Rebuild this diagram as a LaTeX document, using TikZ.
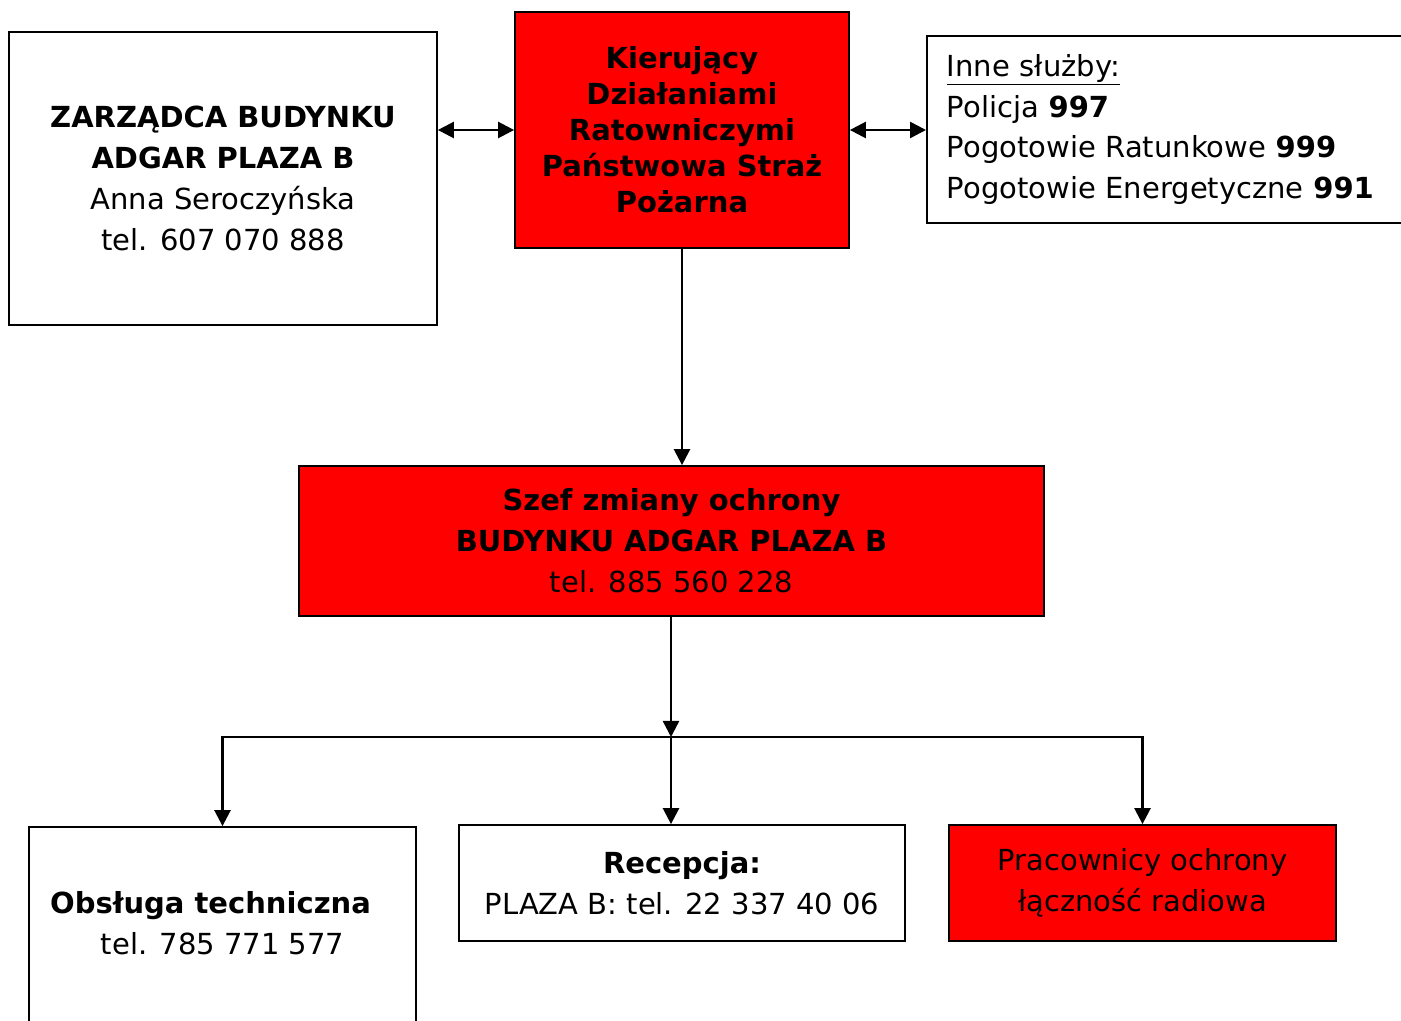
\documentclass[tikz,border=0pt]{standalone}
\usepackage{fontspec}
\setmainfont{DejaVu Sans}
\usetikzlibrary{arrows.meta, positioning, calc}
\tikzset{
  block/.style = {draw=black, line width=1pt, align=center, inner sep=4pt,
                  font=\fontsize{16.5}{23.3}\selectfont},
  alarm/.style = {block, fill=red},
  plain/.style = {block, fill=white},
  flow/.style  = {-{Triangle[length=3.2mm, width=3.2mm]}, line width=1.4pt},
  both/.style  = {{Triangle[length=3.2mm, width=3.2mm]}-{Triangle[length=3.2mm, width=3.2mm]}, line width=1.4pt}
}

\begin{document}
\begin{tikzpicture}
\useasboundingbox (0,0) rectangle (28.02,20.4);

% top row
\node[plain, minimum width=8.56cm, minimum height=5.86cm] at (4.46,16.83) (mgr)
  {\textbf{ZARZĄDCA BUDYNKU}\\ \textbf{ADGAR PLAZA B}\\ Anna Seroczyńska\\ tel. 607 070 888};
\node[alarm, minimum width=6.68cm, minimum height=4.72cm,
      font=\fontsize{16.5}{20.5}\selectfont\bfseries] at (13.64,17.8) (kdr)
  {Kierujący\\ Działaniami\\ Ratowniczymi\\ Państwowa Straż\\ Pożarna};
\node[plain, anchor=west, align=left, text width=9.08cm, inner xsep=0.4cm,
      minimum height=3.74cm] at (18.52,17.81) (inne)
  {\underline{Inne służby:}\\ Policja \textbf{997}\\ Pogotowie Ratunkowe \textbf{999}\\
   Pogotowie Energetyczne \textbf{991}};

% middle
\node[alarm, minimum width=14.9cm, minimum height=3cm] at (13.43,9.58) (szef)
  {\textbf{Szef zmiany ochrony}\\ \textbf{BUDYNKU ADGAR PLAZA B}\\ tel. 885 560 228};

% bottom row
\node[plain, minimum width=7.74cm, minimum height=4.66cm] at (4.45,1.53) (obs)
  {\textbf{Obsługa techniczna}\hspace*{0.48cm}\\ tel. 785 771 577\\ \mbox{}};
\node[plain, minimum width=8.92cm, minimum height=2.32cm] at (13.64,2.74) (rec)
  {\textbf{Recepcja:}\\ PLAZA B: tel. 22 337 40 06};
\node[alarm, minimum width=7.74cm, minimum height=2.32cm] at (22.85,2.74) (prac)
  {Pracownicy ochrony\\ łączność radiowa};

% connectors
\draw[both] (mgr.east |- 0,17.8) -- (kdr.west);
\draw[both] (kdr.east) -- (inne.west |- kdr.east);
\draw[flow] (kdr.south) -- (kdr.south |- szef.north);

\coordinate (jn) at (13.42,5.66);
\coordinate (jl) at (obs.north |- jn);
\coordinate (jr) at (prac.north |- jn);
\draw[flow] (jn |- szef.south) -- (jn);
\draw[line width=1.4pt, line cap=rect] (jl) -- (jr);
\draw[flow] (jl) -- (obs.north);
\draw[flow] (jn) -- (jn |- rec.north);
\draw[flow] (jr) -- (prac.north);
\end{tikzpicture}
\end{document}
